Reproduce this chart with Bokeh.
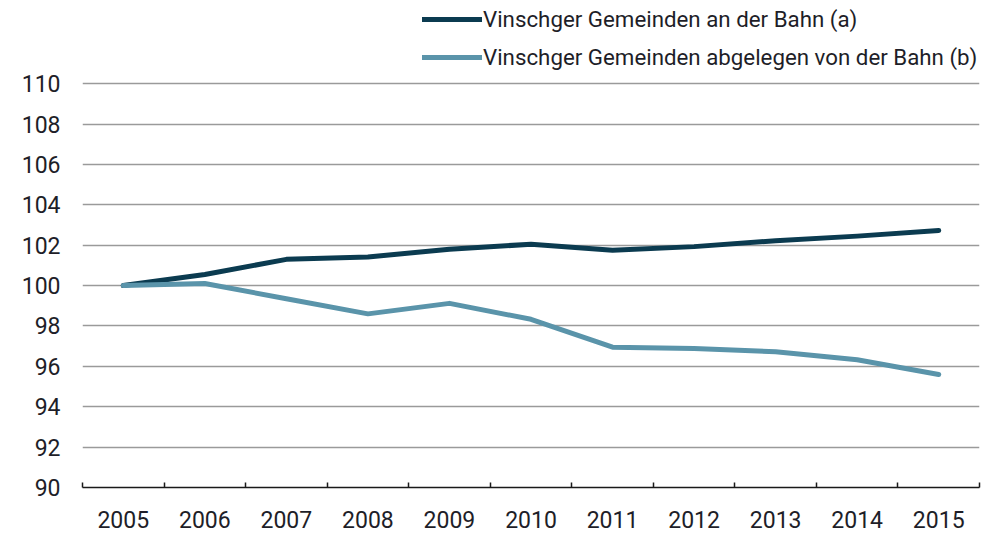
from bokeh.plotting import figure
from bokeh.models import FixedTicker, Legend, LegendItem, Range1d
from bokeh.embed import file_html
from bokeh.resources import INLINE

years = [2005, 2006, 2007, 2008, 2009, 2010, 2011, 2012, 2013, 2014, 2015]
series_a_name = "Vinschger Gemeinden an der Bahn (a)"
series_a = [100.0, 100.55, 101.3, 101.42, 101.8, 102.05, 101.75, 101.93, 102.22, 102.45, 102.73]
series_b_name = "Vinschger Gemeinden abgelegen von der Bahn (b)"
series_b = [100.0, 100.1, 99.35, 98.6, 99.12, 98.33, 96.95, 96.88, 96.72, 96.33, 95.6]
y_ticks = [90, 92, 94, 96, 98, 100, 102, 104, 106, 108, 110]

FONT = "Roboto"
TEXT_COLOR = "#1e1e28"

# frame extends above the top gridline so the legend has room
p = figure(width=996, height=533, output_backend="svg", toolbar_location=None,
           x_range=Range1d(years[0] - 0.5, years[-1] + 0.5),
           y_range=Range1d(y_ticks[0], 114.12),
           min_border_left=82, min_border_right=17, min_border_top=0, min_border_bottom=46)
p.outline_line_color = None
p.background_fill_color = "white"
p.border_fill_color = "white"

ra = p.line(years, series_a, line_color="#0b3b50", line_width=5, line_cap="round", line_join="round")
rb = p.line(years, series_b, line_color="#5a94aa", line_width=5, line_cap="round", line_join="round")

# x axis
p.xaxis.ticker = FixedTicker(ticks=years, minor_ticks=[y - 0.5 for y in years] + [years[-1] + 0.5])
p.xaxis.major_tick_in = 0
p.xaxis.major_tick_out = 0
p.xaxis.minor_tick_in = 5
p.xaxis.minor_tick_out = 0
p.xaxis.minor_tick_line_color = "#1a1a1a"
p.xaxis.minor_tick_line_width = 1.5
p.xaxis.axis_line_color = "#1a1a1a"
p.xaxis.axis_line_width = 1.5
p.xaxis.major_label_text_font = FONT
p.xaxis.major_label_text_font_size = "23px"
p.xaxis.major_label_text_color = TEXT_COLOR
p.xaxis.major_label_standoff = 23

# y axis
p.yaxis.ticker = FixedTicker(ticks=y_ticks, minor_ticks=[])
p.yaxis.axis_line_color = None
p.yaxis.major_tick_line_color = None
p.yaxis.major_tick_in = 0
p.yaxis.major_tick_out = 0
p.yaxis.minor_tick_line_color = None
p.yaxis.major_label_text_font = FONT
p.yaxis.major_label_text_font_size = "23px"
p.yaxis.major_label_text_color = TEXT_COLOR
p.yaxis.major_label_standoff = 22

p.xgrid.grid_line_color = None
p.ygrid.ticker = FixedTicker(ticks=y_ticks[1:])
p.ygrid.grid_line_color = "#9a9a9a"
p.ygrid.grid_line_width = 1.3

legend = Legend(items=[LegendItem(label=series_a_name, renderers=[ra]),
                       LegendItem(label=series_b_name, renderers=[rb])],
                location=(340, 415), orientation="vertical",
                padding=0, margin=0, spacing=8,
                glyph_width=60, glyph_height=30, label_height=30, label_standoff=1,
                label_text_font=FONT, label_text_font_size="22.3px", label_text_color=TEXT_COLOR,
                border_line_color=None, background_fill_alpha=0)
p.add_layout(legend)

open("out.html", "w").write(file_html(p, INLINE))
